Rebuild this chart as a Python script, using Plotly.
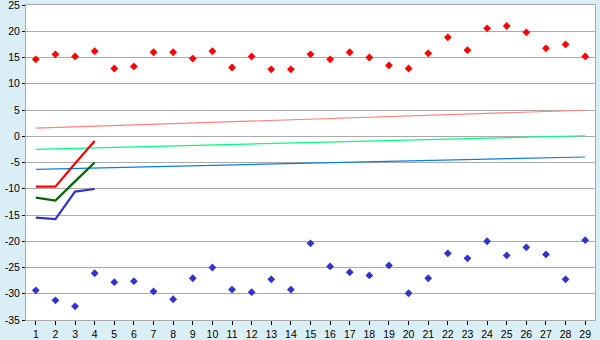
import plotly.graph_objects as go

days = list(range(1, 30))
red_pts = [14.65, 15.6, 15.2, 16.2, 12.9, 13.3, 16.0, 16.0, 14.8, 16.2,
           13.1, 15.2, 12.75, 12.75, 15.6, 14.65, 16.0, 15.0, 13.5, 12.9,
           15.8, 18.85, 16.4, 20.55, 21.0, 19.8, 16.75, 17.5, 15.2]
blue_pts = [-29.35, -31.25, -32.4, -26.1, -27.8, -27.6, -29.55, -31.05, -27.05, -25.0,
            -29.2, -29.7, -27.25, -29.2, -20.4, -24.8, -25.9, -26.5, -24.6, -29.9,
            -27.05, -22.3, -23.25, -20.0, -22.7, -21.15, -22.5, -27.25, -19.8]

short_x = [1, 2, 3, 4]
red_line = [-9.6, -9.6, -5.2, -0.9]
green_line = [-11.7, -12.25, -8.6, -5.0]
blue_line = [-15.5, -15.8, -10.55, -10.05]

trend_x = [1, 29]
pink_trend = [1.55, 4.95]
lgreen_trend = [-2.5, 0.1]
lblue_trend = [-6.3, -3.95]

y_ticks = [-35, -30, -25, -20, -15, -10, -5, 0, 5, 10, 15, 20, 25]
y_ticktext = ["-35", "-30", "-25", "-20", "-15", "-10", "-5", "0", "5", "10", "15", "20", "25"]

fig = go.Figure()
for ys, col in [(pink_trend, "#ff8080"), (lgreen_trend, "#00ff80"), (lblue_trend, "#0a7de8")]:
    fig.add_trace(go.Scatter(x=trend_x, y=ys, mode="lines",
                             line=dict(color=col, width=1.2), hoverinfo="skip"))
for ys, col in [(red_line, "#ff0000"), (green_line, "#006400"), (blue_line, "#3333cc")]:
    fig.add_trace(go.Scatter(x=short_x, y=ys, mode="lines",
                             line=dict(color=col, width=2.2)))
fig.add_trace(go.Scatter(x=days, y=red_pts, mode="markers",
                         marker=dict(symbol="diamond", size=6, color="#ff0000")))
fig.add_trace(go.Scatter(x=days, y=blue_pts, mode="markers",
                         marker=dict(symbol="diamond", size=6, color="#3333cc")))

fig.update_layout(
    width=600, height=340,
    margin=dict(l=26, r=5, t=5, b=20),
    paper_bgcolor="#daeff5",
    plot_bgcolor="#ffffff",
    showlegend=False,
    font=dict(family="Liberation Sans", size=10.5, color="#000000"),
)
fig.update_xaxes(range=[0.5, 29.5], tickmode="array", tickvals=days,
                 ticktext=[str(d) for d in days],
                 showgrid=False, zeroline=False, automargin=False,
                 showline=True, linecolor="#aaaaaa", linewidth=1, mirror=True,
                 ticks="outside", ticklen=4, tickcolor="#000000",
                 ticklabelstandoff=0, ticklabeloverflow="allow")
fig.update_yaxes(range=[-35, 25], tickmode="array", tickvals=y_ticks, ticktext=y_ticktext,
                 showgrid=True, gridcolor="#aaaaaa", gridwidth=1, zeroline=False,
                 automargin=False,
                 showline=True, linecolor="#aaaaaa", linewidth=1, mirror=True,
                 ticks="outside", ticklen=3, tickcolor="#000000",
                 ticklabeloverflow="allow")

fig.write_html("out.html")
